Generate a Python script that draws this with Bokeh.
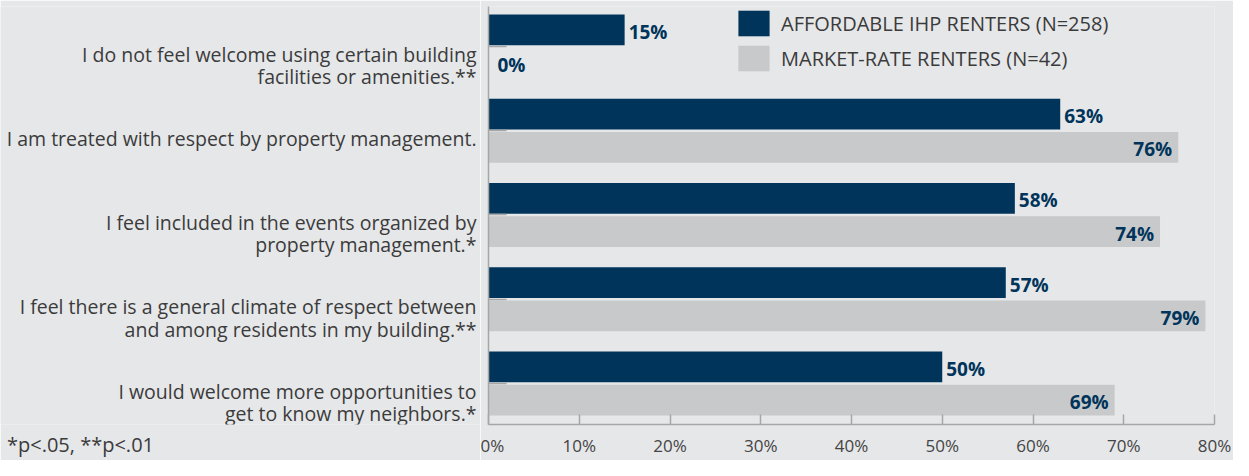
from bokeh.plotting import figure
from bokeh.layouts import row
from bokeh.models import (ColumnDataSource, Range1d, FixedTicker, Legend,
                          LegendItem, PrintfTickFormatter)
from bokeh.core.properties import value
from bokeh.transform import dodge
from bokeh.embed import file_html
from bokeh.resources import INLINE

# ---------------- data ----------------
statements = [
    "I do not feel welcome using certain building\nfacilities or amenities.**",
    "I am treated with respect by property management.",
    "I feel included in the events organized by\nproperty management.*",
    "I feel there is a general climate of respect between\nand among residents in my building.**",
    "I would welcome more opportunities to\nget to know my neighbors.*",
]
affordable = [15, 63, 58, 57, 50]
market_rate = [0, 76, 74, 79, 69]
series_names = ["AFFORDABLE IHP RENTERS (N=258)", "MARKET-RATE RENTERS (N=42)"]
x_ticks = [0, 10, 20, 30, 40, 50, 60, 70, 80]
footnote = "*p<.05, **p<.01"

# ---------------- style ----------------
BG = "#e6e7e9"
NAVY = "#00345a"
GRAY = "#c8c9cb"
TEXT = "#3b3b3b"
AXIS = "#a6a6a6"
FONT = "Open Sans"

HGT = 460
LEFT_W = 480          # width of the label panel
CHART_W = 753         # width of the chart panel
PITCH = 85.04         # pixels per category
C0 = 46.4             # canvas y of the first category centre
TOP, BOT = 6, 428     # chart frame top / bottom (canvas px)

idx = list(range(len(statements)))

# ---------------- chart panel ----------------
src_a = ColumnDataSource(dict(
    y=idx, v=affordable, txt=[f"{v}%" for v in affordable]))
src_m = ColumnDataSource(dict(
    y=idx, v=market_rate, txt=[f"{v}%" for v in market_rate],
    align=["left" if v == 0 else "right" for v in market_rate],
    xoff=[9 if v == 0 else -6 for v in market_rate]))

p = figure(width=CHART_W, height=HGT, output_backend="svg", toolbar_location=None,
           x_range=Range1d(0, 80),
           y_range=Range1d((BOT - C0) / PITCH, (TOP - C0) / PITCH),
           min_border_left=8, min_border_right=19, min_border_top=TOP,
           min_border_bottom=HGT - BOT, background_fill_color=BG,
           border_fill_color=BG, outline_line_color=None)

OFF = 0.197
H = 0.364
ra = p.hbar(y=dodge("y", -OFF, range=p.y_range), left=0, right="v", height=H,
            source=src_a, fill_color=NAVY, line_color=None)
rm = p.hbar(y=dodge("y", OFF, range=p.y_range), left=0, right="v", height=H,
            source=src_m, fill_color=GRAY, line_color=None)

p.text(x="v", y=dodge("y", -OFF, range=p.y_range), text="txt", source=src_a,
       x_offset=4, y_offset=2, text_align="left", text_baseline="middle",
       text_font=value(FONT), text_font_size="19px", text_font_style="bold",
       text_color=NAVY)
p.text(x="v", y=dodge("y", OFF, range=p.y_range), text="txt", source=src_m,
       x_offset="xoff", y_offset=2, text_align="align", text_baseline="middle",
       text_font=value(FONT), text_font_size="19px", text_font_style="bold",
       text_color=NAVY)

p.grid.visible = False
xa = p.xaxis[0]
xa.ticker = FixedTicker(ticks=x_ticks)
xa.formatter = PrintfTickFormatter(format="%d%%")
xa.major_tick_in = 10
xa.major_tick_out = 0
xa.minor_tick_line_color = None
xa.axis_line_color = AXIS
xa.axis_line_width = 1.5
xa.major_tick_line_color = AXIS
xa.major_tick_line_width = 1.5
xa.major_label_standoff = 9
xa.major_label_text_font = FONT
xa.major_label_text_font_size = "17px"
xa.major_label_text_color = "#444444"

ya = p.yaxis[0]
ya.ticker = FixedTicker(ticks=idx)
ya.major_label_overrides = {i: "" for i in idx}
ya.major_label_standoff = 0
ya.major_tick_in = 18
ya.major_tick_out = 0
ya.minor_tick_line_color = None
ya.axis_line_color = AXIS
ya.axis_line_width = 1.5
ya.major_tick_line_color = AXIS
ya.major_tick_line_width = 1.5

legend = Legend(items=[LegendItem(label=series_names[0], renderers=[ra]),
                       LegendItem(label=series_names[1], renderers=[rm])],
                location=(246, 350), orientation="vertical",
                glyph_width=39, glyph_height=32, spacing=3, label_standoff=8,
                padding=0, margin=0, border_line_alpha=0,
                background_fill_alpha=0,
                label_text_font=FONT, label_text_font_size="20px",
                label_text_color=TEXT)
p.add_layout(legend, "center")

# ---------------- label panel (shares the chart's y scale) ----------------
lab = figure(width=LEFT_W, height=HGT, output_backend="svg", toolbar_location=None,
             title=None, y_axis_location=None,
             x_range=Range1d(0, LEFT_W), y_range=p.y_range,
             min_border=0, min_border_left=0, min_border_right=0,
             min_border_top=TOP, min_border_bottom=HGT - BOT,
             background_fill_color=BG, border_fill_color=BG,
             outline_line_color=None)
lab.grid.visible = False
lab_src = ColumnDataSource(dict(y=idx, txt=statements))
lab.text(x=LEFT_W - 4, y=dodge("y", -6 / PITCH, range=lab.y_range), text="txt",
         source=lab_src, text_align="right", text_baseline="top",
         text_font=value(FONT), text_font_size="19.5px", text_color=TEXT,
         text_line_height=0.83)

# footnote shown as the single tick label of the label panel's bottom axis
fa = lab.xaxis[0]
fa.ticker = FixedTicker(ticks=[80])
fa.major_label_overrides = {80: footnote}
fa.axis_line_color = None
fa.major_tick_line_color = None
fa.minor_tick_line_color = None
fa.major_tick_in = 0
fa.major_tick_out = 0
fa.major_label_standoff = 6
fa.major_label_text_font = FONT
fa.major_label_text_font_size = "20px"
fa.major_label_text_color = TEXT

layout = row(lab, p)
open("out.html", "w").write(file_html(layout, INLINE))
